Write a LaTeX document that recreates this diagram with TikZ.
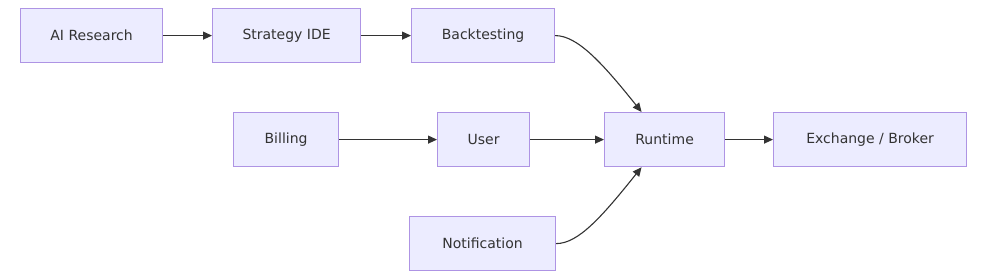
\documentclass[tikz,border=0pt]{standalone}
\usepackage{fontspec}
\setmainfont{DejaVu Sans}
\usetikzlibrary{arrows.meta,calc}
\definecolor{boxfill}{HTML}{ECECFF}
\definecolor{boxline}{HTML}{9370DB}
\definecolor{ink}{HTML}{333333}
\begin{document}
\begin{tikzpicture}[x=1pt,y=-1pt,
  box/.style={draw=boxline!75,fill=boxfill,line width=1.2pt,text=ink,
    font=\fontsize{14}{16}\selectfont,inner sep=0pt,anchor=north west},
  link/.style={draw=ink,line width=1.1pt,-{Triangle[length=9pt,width=8pt]}}]
\useasboundingbox (0,0) rectangle (986,278);
\node[box,minimum width=142pt,minimum height=54pt] (ai) at (20,8) {AI Research};
\node[box,minimum width=148pt,minimum height=54pt] (ide) at (212,8) {Strategy IDE};
\node[box,minimum width=143pt,minimum height=54pt] (bt) at (411,8) {Backtesting};
\node[box,minimum width=105pt,minimum height=54pt] (bill) at (233,112) {Billing};
\node[box,minimum width=92pt,minimum height=54pt] (user) at (437,112) {User};
\node[box,minimum width=120pt,minimum height=54pt] (rt) at (604,112) {Runtime};
\node[box,minimum width=193pt,minimum height=54pt] (ex) at (773,112) {Exchange / Broker};
\node[box,minimum width=146pt,minimum height=54pt] (note) at (409,216) {Notification};
\coordinate (rtn) at ($(rt.north west)!0.31!(rt.north east)$);
\coordinate (rts) at ($(rt.south west)!0.31!(rt.south east)$);
\draw[link] (ai) -- (ide);
\draw[link] (ide) -- (bt);
\draw[link] (bill) -- (user);
\draw[link] (user) -- (rt);
\draw[link] (rt) -- (ex);
\draw[link] (bt.east) .. controls +(22,0) and +(-40,-50) .. (rtn);
\draw[link] (note.east) .. controls +(22,0) and +(-40,50) .. (rts);
\end{tikzpicture}
\end{document}
